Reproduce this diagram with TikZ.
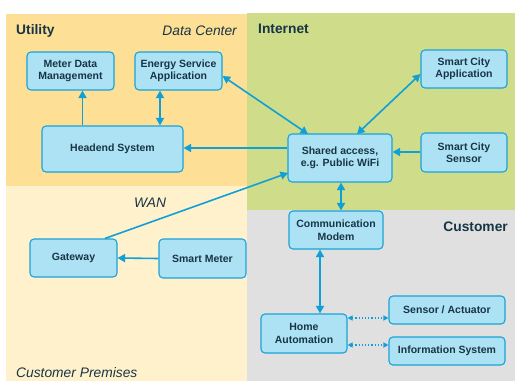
\documentclass[tikz,border=0pt]{standalone}
\usepackage{fontspec}
\setmainfont{Liberation Sans}
\usetikzlibrary{arrows.meta}
\definecolor{utilbg}{HTML}{FDDF95}
\definecolor{prembg}{HTML}{FFF1CB}
\definecolor{netbg}{HTML}{CFDC8A}
\definecolor{custbg}{HTML}{E0E0E0}
\definecolor{boxfill}{HTML}{ADE2F4}
\definecolor{boxline}{HTML}{1AA3D8}
\definecolor{arr}{HTML}{0FA0D8}
\definecolor{txt}{HTML}{173545}
\tikzset{
  box/.style={draw=boxline, fill=boxfill, line width=1.1pt, rounded corners=4pt,
    inner sep=0pt, align=center, text=txt,
    font=\fontsize{10.5}{12.5}\selectfont\bfseries},
  conn/.style={draw=arr, line width=1.6pt, -{Triangle[length=7.5pt,width=8pt]}},
  dconn/.style={draw=arr, line width=1.6pt, {Triangle[length=7.5pt,width=8pt]}-{Triangle[length=7.5pt,width=8pt]}},
  dotconn/.style={draw=arr, line width=1.2pt, dotted, {Triangle[length=5pt,width=5pt]}-{Triangle[length=5pt,width=5pt]}},
  area/.style={text=txt, inner sep=0pt, font=\fontsize{13.8}{15}\selectfont\bfseries},
  iarea/.style={text=txt, inner sep=0pt, font=\fontsize{13.8}{15}\selectfont\itshape},
}
\begin{document}
\begin{tikzpicture}[x=1pt,y=-1pt]
\fill[white] (0,0) rectangle (515,381);
\useasboundingbox (0,0) rectangle (515,381);
% regions
\fill[utilbg] (6,14) rectangle (247,186);
\fill[prembg] (6,186) rectangle (247,381);
\fill[netbg] (247,13) rectangle (515,210);
\fill[custbg] (247,210) rectangle (515,381);
% region labels
\node[area, anchor=west] (lutil) at (16,31) {Utility};
\node[iarea, anchor=east] (ldc) at (237,31) {Data Center};
\node[area, anchor=west] (lnet) at (258,29) {Internet};
\node[iarea] (lwan) at (150,203) {WAN};
\node[iarea, anchor=west] (lprem) at (16,373) {Customer Premises};
\node[area, anchor=east] (lcust) at (508,227) {Customer};
% nodes
\node[box, minimum width=87pt, minimum height=38pt] (mdm) at (70.5,71) {Meter Data\\Management};
\node[box, minimum width=87pt, minimum height=38pt] (esa) at (178.5,71) {Energy Service\\Application};
\node[box, minimum width=141pt, minimum height=46pt] (hes) at (112.5,149) {Headend System};
\node[box, minimum width=86pt, minimum height=38pt] (sca) at (464,69) {Smart City\\Application};
\node[box, minimum width=104pt, minimum height=48pt] (sha) at (340,158) {Shared access,\\e.g. Public WiFi};
\node[box, minimum width=86pt, minimum height=39pt] (scs) at (464,152.5) {Smart City\\Sensor};
\node[box, minimum width=87pt, minimum height=38pt] (gw) at (73.5,258) {Gateway};
\node[box, minimum width=87pt, minimum height=39pt] (smm) at (202.5,258.5) {Smart Meter};
\node[box, minimum width=94pt, minimum height=38pt] (cm) at (336,230) {Communication\\Modem};
\node[box, minimum width=86pt, minimum height=39pt] (ha) at (304,333.5) {Home\\Automation};
\node[box, minimum width=116pt, minimum height=28pt] (sa) at (447,310) {Sensor / Actuator};
\node[box, minimum width=116pt, minimum height=28pt] (is) at (447,351) {Information System};
% connectors
\draw[conn] (hes.north -| 82.5,0) -- (mdm.south -| 82.5,0);
\draw[dconn] (hes.north -| 160,0) -- (esa.south -| 160,0);
\draw[conn] (sha.west |- 0,148) -- (hes.east |- 0,148);
\draw[dconn] (esa.east |- 0,76) -- (308,134);
\draw[dconn] (357,134) -- (sca.west |- 0,74);
\draw[conn] (scs.west |- 0,152) -- (sha.east |- 0,152);
\draw[conn] (gw.north -| 105,0) -- (288,173);
\draw[dconn] (sha.south -| 341,0) -- (cm.north -| 341,0);
\draw[conn] (smm.west) -- (gw.east);
\draw[dconn] (cm.south -| 320,0) -- (ha.north -| 320,0);
\draw[dotconn] (ha.east |- 0,318) -- (sa.west |- 0,318);
\draw[dotconn] (ha.east |- 0,345) -- (is.west |- 0,345);
\end{tikzpicture}
\end{document}
